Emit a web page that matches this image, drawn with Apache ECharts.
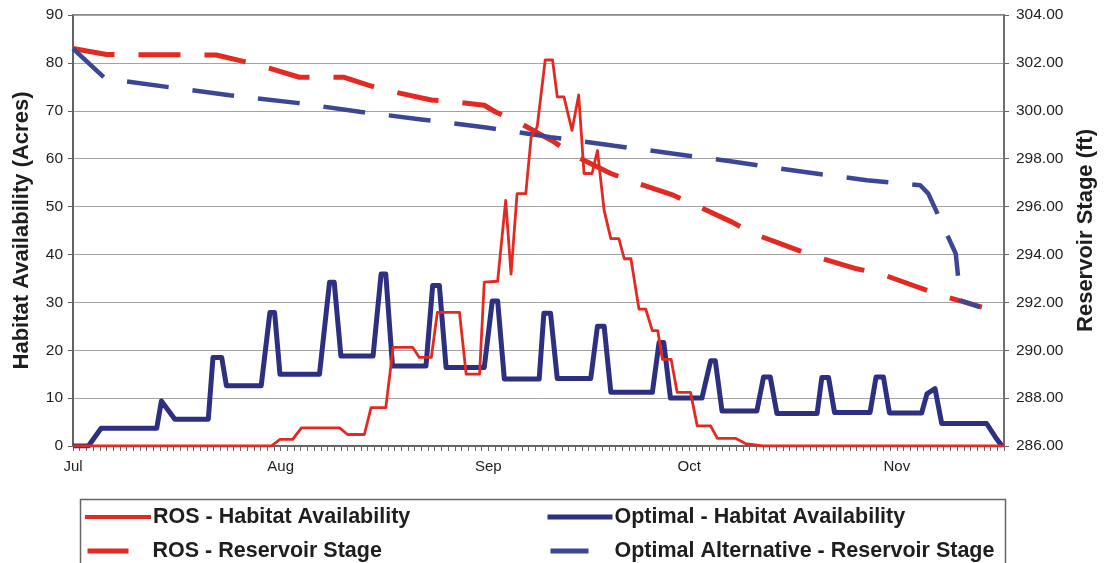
<!DOCTYPE html>
<html>
<head>
<meta charset="utf-8">
<script src="https://cdn.jsdelivr.net/npm/echarts@6/dist/echarts.min.js"></script>
<style>
html,body{margin:0;padding:0;background:#fff;}
#chart{width:1105px;height:563px;}
</style>
</head>
<body>
<div id="chart"></div>
<script>
// ---- Data (day index from Jul 1, value) ----
const monthLabels = ['Jul', 'Aug', 'Sep', 'Oct', 'Nov'];
const monthStartDays = [0, 31, 62, 92, 123];

const seriesNames = [
  'ROS - Habitat Availability',
  'Optimal - Habitat Availability',
  'ROS - Reservoir Stage',
  'Optimal Alternative - Reservoir Stage'
];

// ROS - Habitat Availability (acres)
const rosHabitat = [
  [0,0],[29.6,0],[30.9,1.4],[32.8,1.4],[34.1,3.8],[39.8,3.8],[41,2.4],[43.5,2.4],
  [44.5,8],[46.7,8],[47.8,20.6],[50.7,20.6],[51.7,18.5],[53.5,18.5],[54.4,27.9],
  [57.7,27.9],[58.7,15],[60.7,15],[61.4,34.2],[63.4,34.4],[64.6,51.3],[65.4,35.9],
  [66.3,52.7],[67.6,52.7],[68.4,64.5],[69.3,66.6],[70.5,80.6],[71.6,80.6],[72.3,72.9],
  [73.3,72.9],[74.5,65.9],[75.5,73.3],[76.3,56.9],[77.5,56.9],[78.3,61.7],[79.3,49.2],
  [80.3,43.3],[81.5,43.3],[82.3,39.1],[83.3,39.1],[84.5,28.6],[85.5,28.6],[86.5,24.1],
  [87.3,24.1],[88,18.1],[89.3,18.1],[90.2,11.2],[92.2,11.2],[93.2,4.2],[95.2,4.2],
  [96.2,1.6],[98.9,1.6],[100.4,0.5],[103,0],[139,0]
];

// Optimal - Habitat Availability (acres)
const optimalHabitat = [
  [0,0],[2.3,0],[4.2,3.7],[12.5,3.7],[13.2,9.4],[15.2,5.6],[20.2,5.6],[20.9,18.5],
  [22.2,18.5],[22.9,12.6],[28.1,12.6],[29.4,27.9],[30.1,27.9],[30.9,15],[36.8,15],
  [38.3,34.2],[39,34.2],[40,18.8],[44.8,18.8],[46,35.9],[46.7,35.9],[47.7,16.7],
  [52.7,16.7],[53.7,33.5],[54.7,33.5],[55.7,16.4],[61.4,16.4],[62.6,30.3],[63.4,30.3],
  [64.4,14],[69.6,14],[70.3,27.7],[71.3,27.7],[72.3,14.1],[77.3,14.1],[78.3,25],
  [79.3,25],[80.3,11.2],[86.5,11.2],[87.5,21.6],[88.2,21.6],[89.2,10],[93.9,10],
  [95.2,17.8],[95.9,17.8],[96.9,7.3],[102.1,7.3],[103.1,14.4],[104.1,14.4],[105.1,6.8],
  [111.1,6.8],[111.8,14.3],[112.8,14.3],[113.7,7],[119,7],[119.9,14.4],[121,14.4],
  [121.9,6.9],[126.7,6.9],[127.5,10.9],[128.7,12],[129.7,4.7],[136.4,4.7],[137.7,1.9],
  [138.7,0]
];

// ROS - Reservoir Stage (ft)
const rosStage = [
  [0,302.6],[5,302.35],[21.4,302.33],[25.6,302.05],[29.4,301.77],[33.8,301.4],
  [40.5,301.4],[44.3,301.05],[47.7,300.8],[53.5,300.45],[57.2,300.37],[61.4,300.23],
  [63.1,299.95],[66.4,299.54],[71.8,298.7],[74.8,298.14],[80.3,297.38],[84,297.0],
  [89.4,296.5],[93,296.05],[98.4,295.35],[101.6,294.87],[107.6,294.24],[111,293.9],
  [117,293.4],[120.5,293.2],[126.2,292.63],[129.7,292.28],[135.7,291.8]
];

// Optimal Alternative - Reservoir Stage (ft)
const optimalStage = [
  [0,302.6],[4.8,301.35],[14.5,300.98],[23.4,300.65],[33.4,300.33],[42.8,299.96],
  [52,299.64],[61.7,299.3],[71.3,298.9],[80.8,298.54],[97.9,297.9],[109,297.45],
  [118.5,297.1],[123.3,296.98],[126.5,296.89],[127.7,296.54],[131.8,294.03],
  [132.5,292.08],[135.4,291.8]
];

// ---- Chart ----
const FONT = '"Liberation Sans", Arial, sans-serif';
const RED = '#e32a22';
const BLUE = '#2d2f80';
const BLUE_D = '#3b4796';
const chart = echarts.init(document.getElementById('chart'), null, {renderer: 'canvas'});

function legendFor(name, left, top, width, color, lw, pad) {
  return {
    data: [name], left: left, top: top, padding: 0,
    itemWidth: width, itemHeight: 14,
    lineStyle: {width: lw, type: 'solid', color: color, cap: 'butt'},
    itemStyle: {opacity: 0},
    textStyle: {fontFamily: FONT, fontWeight: 'bold', fontSize: 21.5, color: '#1e1e1e', padding: [0, 0, 0, pad]},
    selectedMode: false
  };
}

chart.setOption({
  backgroundColor: '#ffffff',
  animation: false,
  grid: {left: 73, right: 99, top: 15, bottom: 117, show: true, borderColor: '#666', borderWidth: 1.5, containLabel: false},
  legend: [
    legendFor(seriesNames[0], 83, 506, 66, RED, 4, -3),
    legendFor(seriesNames[1], 545, 506, 65, BLUE, 5, -3),
    legendFor(seriesNames[2], 85, 540, 41, RED, 5, 19),
    legendFor(seriesNames[3], 548, 540, 38, BLUE_D, 5, 21)
  ],
  graphic: [{
    type: 'rect', left: 78, top: 497, z: -1,
    shape: {width: 925, height: 100},
    style: {fill: 'none', stroke: '#666', lineWidth: 1.5}
  }],
  xAxis: {
    type: 'value', min: 0, max: 139, interval: 1,
    axisLine: {show: true, onZero: false, lineStyle: {color: '#555', width: 1.5}},
    axisTick: {show: true, length: 5, lineStyle: {color: '#666'}},
    splitLine: {show: false},
    axisLabel: {
      margin: 13, fontFamily: FONT, fontSize: 15, color: '#1e1e1e',
      formatter: function (v) {
        const i = monthStartDays.indexOf(v);
        return i >= 0 ? monthLabels[i] : '';
      }
    }
  },
  yAxis: [{
    type: 'value', min: 0, max: 90, interval: 10, position: 'left',
    name: 'Habitat Availability (Acres)', nameLocation: 'middle', nameRotate: 90, nameGap: 40,
    nameTextStyle: {fontFamily: FONT, fontWeight: 'bold', fontSize: 22, color: '#1e1e1e'},
    axisLine: {show: true, lineStyle: {color: '#555', width: 1.5}},
    axisTick: {show: true, length: 5, lineStyle: {color: '#666'}},
    axisLabel: {margin: 10, fontFamily: FONT, fontSize: 15.5, color: '#1e1e1e'},
    splitLine: {show: true, lineStyle: {color: '#a3a3a3', width: 1}}
  }, {
    type: 'value', min: 286, max: 304, interval: 2, position: 'right',
    name: 'Reservoir Stage (ft)', nameLocation: 'middle', nameRotate: 90, nameGap: 71,
    nameTextStyle: {fontFamily: FONT, fontWeight: 'bold', fontSize: 22, color: '#1e1e1e'},
    axisLine: {show: true, lineStyle: {color: '#666', width: 1.5}},
    axisTick: {show: true, length: 5, lineStyle: {color: '#666'}},
    axisLabel: {margin: 12, fontFamily: FONT, fontSize: 15.5, color: '#1e1e1e',
      formatter: function (v) { return v.toFixed(2); }},
    splitLine: {show: false}
  }],
  series: [{
    name: seriesNames[0], type: 'line', yAxisIndex: 0, data: rosHabitat,
    showSymbol: false, symbol: 'none', z: 6, color: RED,
    lineStyle: {color: RED, width: 2.8, join: 'round'}
  }, {
    name: seriesNames[1], type: 'line', yAxisIndex: 0, data: optimalHabitat,
    showSymbol: false, symbol: 'none', z: 3, color: BLUE,
    lineStyle: {color: BLUE, width: 5, join: 'round'}
  }, {
    name: seriesNames[2], type: 'line', yAxisIndex: 1, data: rosStage,
    showSymbol: false, symbol: 'none', z: 4, color: RED,
    lineStyle: {color: RED, width: 5, type: [42, 24], cap: 'butt'}
  }, {
    name: seriesNames[3], type: 'line', yAxisIndex: 1, data: optimalStage,
    showSymbol: false, symbol: 'none', z: 5, color: BLUE_D,
    lineStyle: {color: BLUE_D, width: 4.5, type: [42, 24], cap: 'butt'}
  }]
});
</script>
</body>
</html>
